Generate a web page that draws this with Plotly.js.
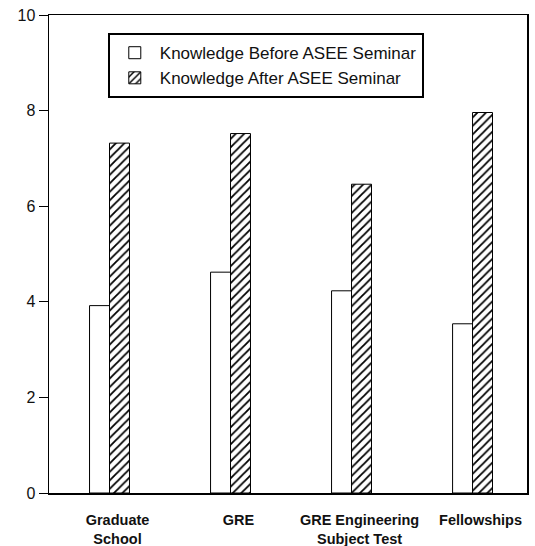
<!DOCTYPE html>
<html>
<head>
<meta charset="utf-8">
<script src="https://cdn.plot.ly/plotly-3.0.1.min.js"></script>
<style>html,body{margin:0;padding:0;background:#fff;}#chart{width:535px;height:546px;}</style>
</head>
<body>
<div id="chart"></div>
<script>
const categories = ["Graduate<br>School", "GRE", "GRE Engineering<br>Subject Test", "Fellowships"];
const beforeValues = [3.92, 4.62, 4.23, 3.54];
const afterValues = [7.32, 7.52, 6.46, 7.96];
const seriesNames = ["Knowledge Before ASEE Seminar", "Knowledge After ASEE Seminar"];
const yTicks = [0, 2, 4, 6, 8, 10];

const traces = [
  {
    type: "bar", x: categories, y: beforeValues, name: seriesNames[0],
    marker: {color: "#ffffff", line: {color: "#000000", width: 1}}
  },
  {
    type: "bar", x: categories, y: afterValues, name: seriesNames[1],
    marker: {color: "#ffffff", line: {color: "#000000", width: 1},
      pattern: {shape: "/", fgcolor: "#000000", bgcolor: "#ffffff", size: 6, solidity: 0.3}}
  }
];

const layout = {
  width: 535, height: 546,
  margin: {l: 49, r: 8, t: 15, b: 53, pad: 0},
  paper_bgcolor: "#ffffff", plot_bgcolor: "#ffffff",
  font: {family: "Liberation Sans, Arial, sans-serif", color: "#111111"},
  barmode: "group", bargap: 0.67, bargroupgap: 0,
  showlegend: true,
  legend: {
    x: 0.123, y: 0.962, xanchor: "left", yanchor: "top",
    bgcolor: "#ffffff", bordercolor: "#000000", borderwidth: 2,
    font: {size: 17, family: "Liberation Sans, Arial, sans-serif", color: "#111111"},
    traceorder: "normal", itemwidth: 40, tracegroupgap: 0
  },
  xaxis: {
    type: "category", range: [-0.5, 3.45],
    showline: true, linecolor: "#000000", linewidth: 1.5, mirror: true,
    ticks: "", showgrid: false, zeroline: false,
    tickfont: {size: 14.5, family: "Liberation Sans, Arial, sans-serif", color: "#111111", weight: "bold"},
    ticklabelstandoff: 13, ticklabelshift: 8
  },
  yaxis: {
    range: [0, 10], tickvals: yTicks, ticktext: yTicks.map(String),
    showline: true, linecolor: "#000000", linewidth: 1.5, mirror: true,
    ticks: "outside", ticklen: 9, tickwidth: 1, tickcolor: "#000000",
    showgrid: false, zeroline: false,
    tickfont: {size: 16, family: "Liberation Sans, Arial, sans-serif", color: "#111111"}
  }
};

Plotly.newPlot("chart", traces, layout, {displayModeBar: false, staticPlot: true});
</script>
</body>
</html>
